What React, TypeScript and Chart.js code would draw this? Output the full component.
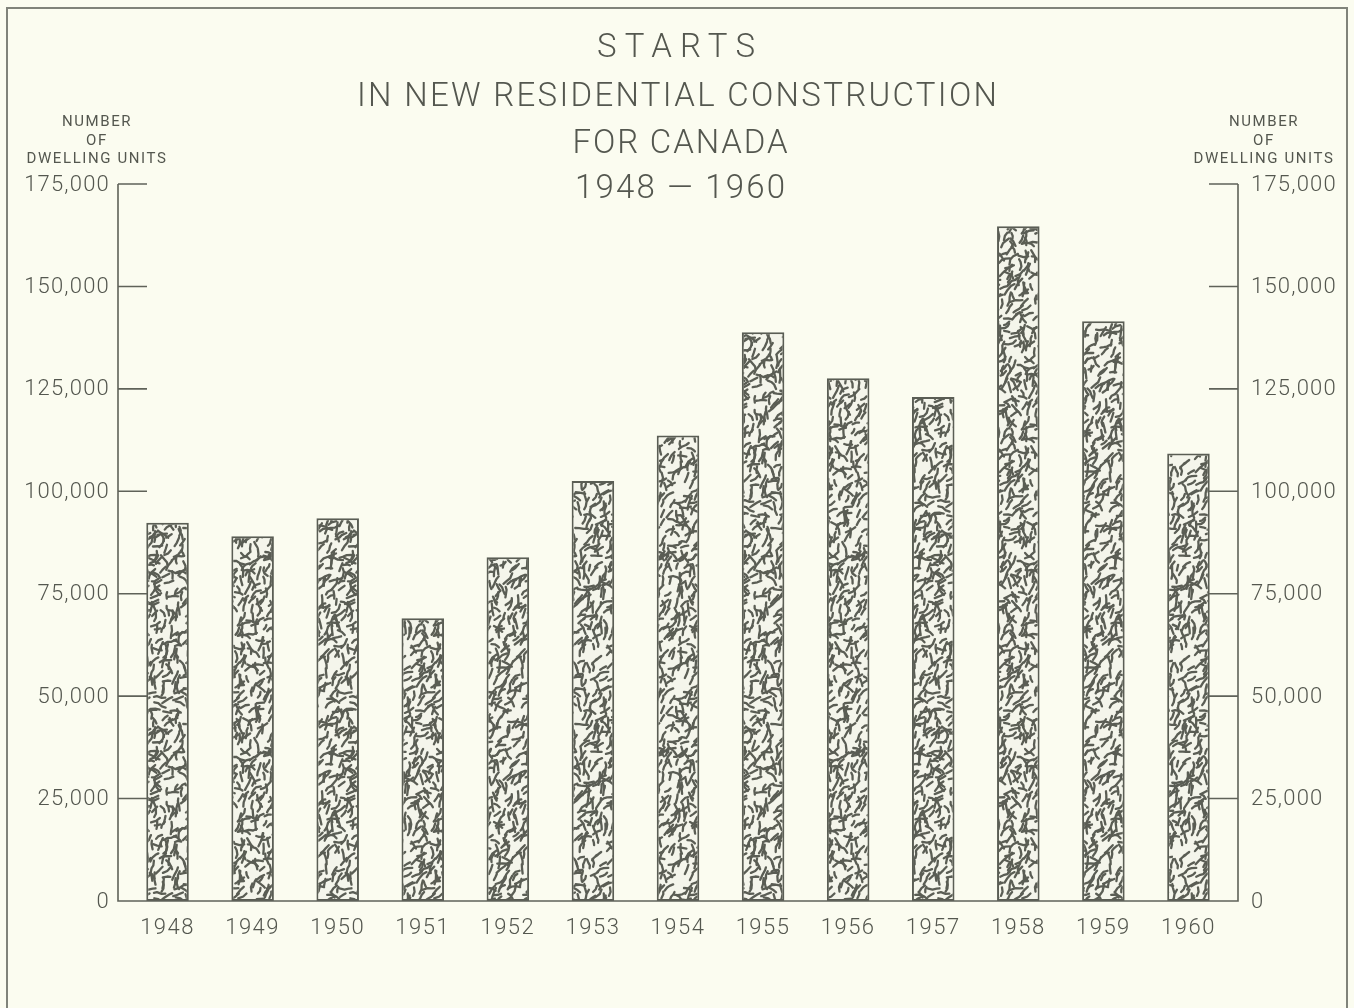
import React, { useEffect, useRef } from "react";
import { Chart, registerables } from "chart.js";

Chart.register(...registerables);

const years = ["1948", "1949", "1950", "1951", "1952", "1953", "1954", "1955", "1956", "1957", "1958", "1959", "1960"];
const starts = [92300, 89000, 93400, 69000, 83900, 102500, 113600, 138800, 127600, 123000, 164700, 141500, 109200];
const yTicks = [0, 25000, 50000, 75000, 100000, 125000, 150000, 175000];
const titleLines = ["STARTS", "IN NEW RESIDENTIAL CONSTRUCTION", "FOR CANADA", "1948 — 1960"];
const axisHeading = ["NUMBER", "OF", "DWELLING UNITS"];

const INK = "#54574f";
const BG = "#fbfcf0";
const FONT = "Roboto, 'DejaVu Sans', sans-serif";

function fmt(v: number) {
  return v === 0 ? "0" : v.toLocaleString("en-US");
}

function makePattern(ctx: CanvasRenderingContext2D) {
  const size = 196;
  const cell = 7;
  const c = document.createElement("canvas");
  c.width = size;
  c.height = size;
  const g = c.getContext("2d")!;
  g.fillStyle = "#f4f5eb";
  g.fillRect(0, 0, size, size);
  let seed = 987654;
  const rnd = () => {
    seed = (seed * 1103515245 + 12345) & 0x7fffffff;
    return seed / 0x7fffffff;
  };
  g.strokeStyle = "#5a5d54";
  g.lineWidth = 2.3;
  g.lineCap = "round";
  g.lineJoin = "round";
  const n = size / cell;
  for (let i = 0; i < n; i++) {
    for (let j = 0; j < n; j++) {
      if (rnd() < 0.12) continue;
      const x = (i + rnd()) * cell;
      const y = (j + rnd()) * cell;
      let ang = -Math.PI / 3 + (rnd() - 0.5) * 1.9;
      const segs = 2 + Math.floor(rnd() * 2);
      const pts: number[][] = [[x, y]];
      let px = x, py = y;
      for (let s = 0; s < segs; s++) {
        const len = 2.5 + rnd() * 3;
        ang += (rnd() - 0.5) * 1.2;
        px += Math.cos(ang) * len;
        py += Math.sin(ang) * len;
        pts.push([px, py]);
      }
      for (const dx of [-size, 0, size]) {
        for (const dy of [-size, 0, size]) {
          g.beginPath();
          g.moveTo(pts[0][0] + dx, pts[0][1] + dy);
          for (let k = 1; k < pts.length; k++) g.lineTo(pts[k][0] + dx, pts[k][1] + dy);
          g.stroke();
        }
      }
    }
  }
  return ctx.createPattern(c, "repeat")!;
}

function fitText(ctx: CanvasRenderingContext2D, text: string, x: number, y: number, target: number) {
  (ctx as any).letterSpacing = "0px";
  const w = ctx.measureText(text).width;
  const n = Math.max(1, text.length - 1);
  const ls = (target - w) / n;
  (ctx as any).letterSpacing = ls + "px";
  ctx.textAlign = "left";
  ctx.fillText(text, x - target / 2, y);
  (ctx as any).letterSpacing = "0px";
}

const decorPlugin = {
  id: "decor",
  beforeDraw(chart: any) {
    const ctx = chart.ctx as CanvasRenderingContext2D;
    ctx.save();
    ctx.fillStyle = BG;
    ctx.fillRect(0, 0, chart.width, chart.height);
    ctx.strokeStyle = "#80837a";
    ctx.lineWidth = 2;
    ctx.beginPath();
    ctx.moveTo(7, 1010);
    ctx.lineTo(7, 8);
    ctx.lineTo(1347, 8);
    ctx.lineTo(1347, 1010);
    ctx.stroke();
    ctx.restore();
  },
  afterDatasetsDraw(chart: any) {
    const ctx = chart.ctx as CanvasRenderingContext2D;
    const ya = chart.scales.y;
    const xa = chart.scales.x;
    const area = chart.chartArea;
    const L = area.left - 7;
    const R = area.right + 7;
    const top = ya.getPixelForValue(175000);
    const bot = ya.getPixelForValue(0);
    ctx.save();
    ctx.strokeStyle = "#5f6259";
    ctx.lineWidth = 1.6;
    ctx.beginPath();
    ctx.moveTo(L, top);
    ctx.lineTo(L, bot);
    ctx.lineTo(R, bot);
    ctx.lineTo(R, top);
    ctx.stroke();
    for (const v of yTicks) {
      if (v === 0) continue;
      const py = ya.getPixelForValue(v);
      ctx.beginPath();
      ctx.moveTo(L, py);
      ctx.lineTo(L + 29, py);
      ctx.moveTo(R, py);
      ctx.lineTo(R - 29, py);
      ctx.stroke();
    }
    ctx.fillStyle = INK;
    ctx.textBaseline = "middle";
    ctx.font = `300 22px ${FONT}`;
    (ctx as any).letterSpacing = "1.2px";
    for (const v of yTicks) {
      const py = ya.getPixelForValue(v) + 1;
      ctx.textAlign = "right";
      ctx.fillText(fmt(v), L - 8, py);
      ctx.textAlign = "left";
      ctx.fillText(fmt(v), R + 13, py);
    }
    ctx.font = `300 22px ${FONT}`;
    (ctx as any).letterSpacing = "1.5px";
    ctx.textAlign = "center";
    years.forEach((yr, i) => {
      ctx.fillText(yr, xa.getPixelForValue(i), bot + 27);
    });
    // axis headings
    ctx.font = `400 15px ${FONT}`;
    (ctx as any).letterSpacing = "1.6px";
    const hy = [122, 141, 159];
    axisHeading.forEach((t, i) => {
      ctx.textAlign = "center";
      ctx.fillText(t, 97, hy[i]);
      ctx.fillText(t, 1264, hy[i]);
    });
    (ctx as any).letterSpacing = "0px";
    // title
    ctx.font = `300 33px ${FONT}`;
    const ty = [49, 98, 145, 190];
    const tw = [158, 640, 215, 210];
    const tx = [676, 677, 680, 680];
    titleLines.forEach((t, i) => fitText(ctx, t, tx[i], ty[i], tw[i]));
    ctx.restore();
  },
};

export default function App() {
  const ref = useRef<HTMLCanvasElement | null>(null);
  useEffect(() => {
    document.body.style.margin = "0";
    const canvas = ref.current!;
    const ctx = canvas.getContext("2d")!;
    const pattern = makePattern(ctx);
    const chart = new Chart(canvas, {
      type: "bar",
      data: {
        labels: years,
        datasets: [
          {
            data: starts,
            backgroundColor: pattern as any,
            borderColor: "#5a5d54",
            borderWidth: 2,
            borderSkipped: false,
            barPercentage: 0.5,
            categoryPercentage: 1,
          },
        ],
      },
      options: {
        responsive: false,
        animation: false,
        layout: { padding: { left: 125, right: 123, top: 184, bottom: 107 } },
        plugins: { legend: { display: false }, tooltip: { enabled: false }, title: { display: false } },
        scales: {
          x: { display: false, offset: true },
          y: { display: false, min: 0, max: 175000 },
        },
      },
      plugins: [decorPlugin],
    });
    return () => chart.destroy();
  }, []);
  return (
    <div style={{ width: 1354, height: 1008, background: BG }}>
      <canvas ref={ref} width={1354} height={1008} style={{ display: "block" }} />
    </div>
  );
}
